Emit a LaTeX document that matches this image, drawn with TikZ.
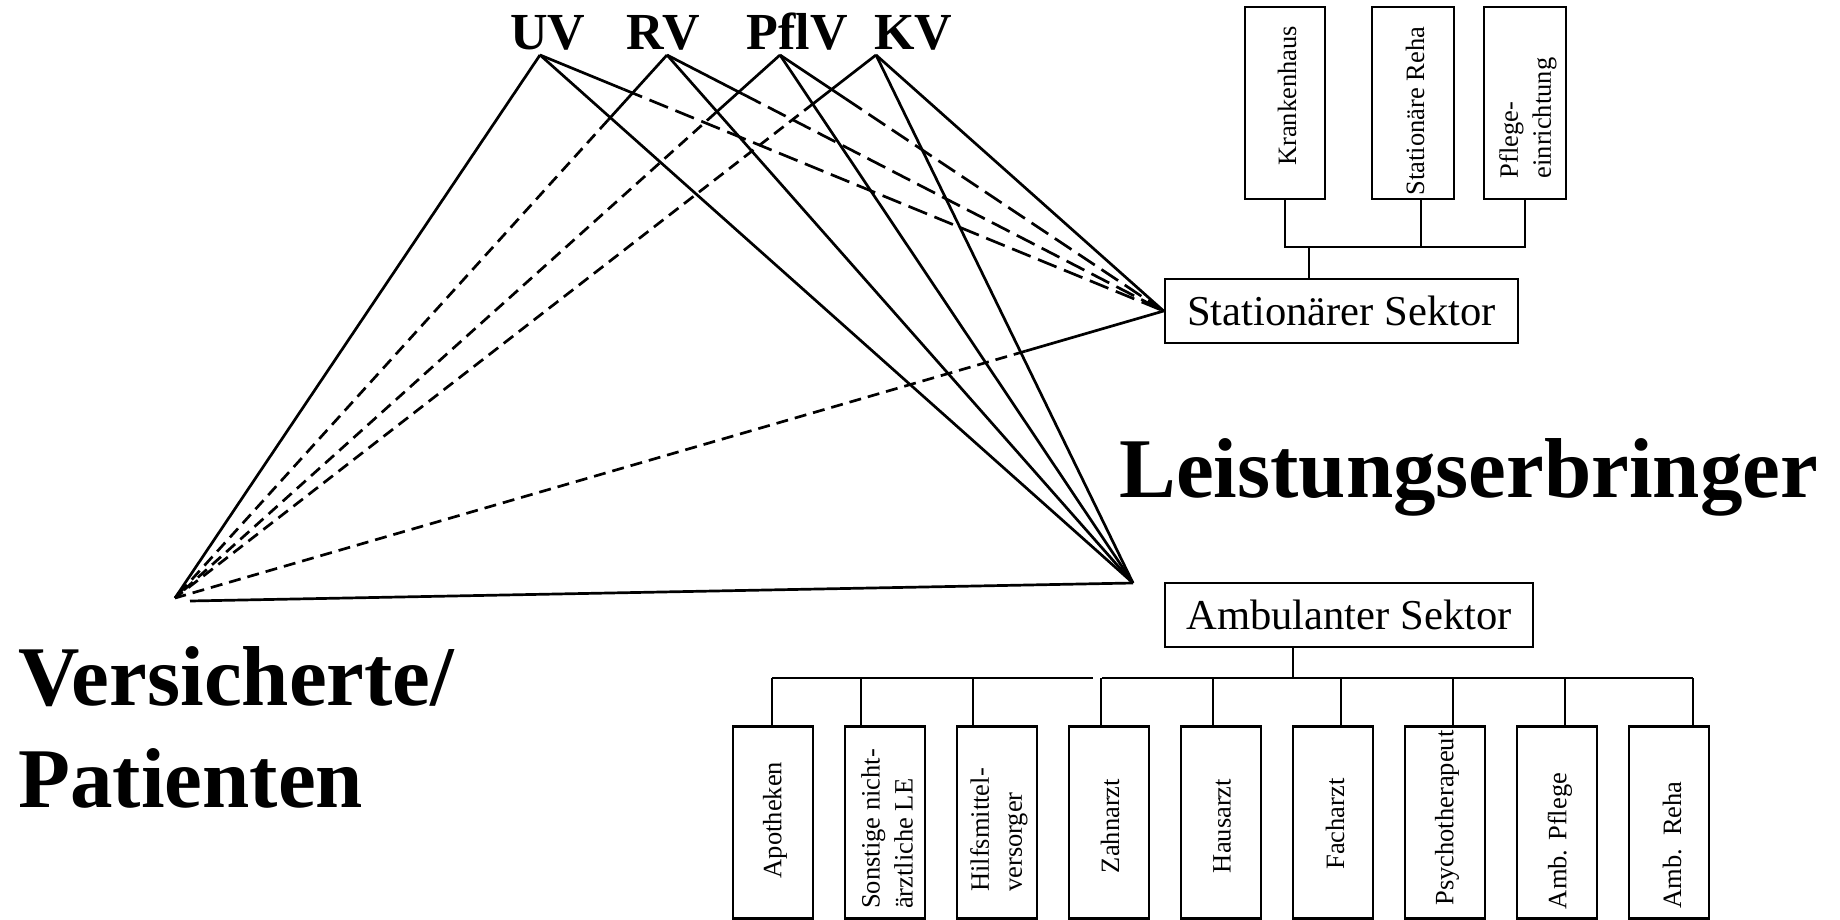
\documentclass[tikz,border=0pt]{standalone}
\usepackage{fontspec}
\setmainfont{Liberation Serif}
\usetikzlibrary{calc}
\begin{document}
\begin{tikzpicture}[x=0.5pt,y=-0.5pt, line width=1.35pt,
  big/.style={font=\fontsize{42.5}{51}\selectfont\bfseries, inner sep=0pt, anchor=base west},
  ins/.style={font=\fontsize{26}{30}\selectfont\bfseries, inner sep=0pt, anchor=base},
  sector/.style={draw, font=\fontsize{21.3}{25}\selectfont, minimum height=32pt, inner sep=0pt},
  sbox/.style={draw, minimum width=40pt, minimum height=96pt, inner sep=0pt},
  stxt/.style={rotate=90, font=\fontsize{13.25}{16.5}\selectfont, align=left, inner sep=0pt},
  toS/.style={dash pattern=on 10pt off 4pt},
  toV/.style={dash pattern=on 6pt off 3.5pt}
]
\useasboundingbox (0,0) rectangle (1840,920);

% insurers
\node[ins] (uv) at (548,50) {UV};
\node[ins] (rv) at (663,50) {RV};
\node[ins] (pflv) at (797,50) {PflV};
\node[ins] (kv) at (913,50) {KV};
\coordinate (uvp) at (540,55);
\coordinate (rvp) at (667,55);
\coordinate (pflvp) at (780,55);
\coordinate (kvp) at (876,55);

% big labels
\node[big] (vers1) at (17,705) {Versicherte/};
\node[big] (vers2) at (17,807) {Patienten};
\node[big] (le) at (1118,497) {Leistungserbringer};

% vertices
\coordinate (V) at (175,598);
\coordinate (Vb) at (190,601);
\coordinate (A) at (1133,583);

% sectors
\node[sector, minimum width=176.5pt] (stat) at (1341.5,311) {Stationärer Sektor};
\node[sector, minimum width=184pt] (amb) at (1349,615) {Ambulanter Sektor};

% solid connectors
\draw (uvp) -- (V);
\draw (uvp) -- (A);
\draw (rvp) -- (A);
\draw (pflvp) -- (A);
\draw (kvp) -- (A);
\draw (kvp) -- (stat.west);
\draw (A) -- (Vb);

% partly solid, then dashed
\draw (uvp) -- ($(uvp)!0.134!(stat.west)$) coordinate (b1);
\draw[toS] (b1) -- (stat.west);
\draw (rvp) -- ($(rvp)!0.153!(stat.west)$) coordinate (b2);
\draw[toS] (b2) -- (stat.west);
\draw (pflvp) -- ($(pflvp)!0.17!(stat.west)$) coordinate (b3);
\draw[toS] (b3) -- (stat.west);
\draw (rvp) -- ($(rvp)!0.12!(V)$) coordinate (b4);
\draw[toV] (b4) -- (V);
\draw (pflvp) -- ($(pflvp)!0.106!(V)$) coordinate (b5);
\draw[toV] (b5) -- (V);
\draw (kvp) -- ($(kvp)!0.089!(V)$) coordinate (b6);
\draw[toV] (b6) -- (V);
\draw (stat.west) -- ($(stat.west)!0.14!(V)$) coordinate (b7);
\draw[toV] (b7) -- (V);

% stationary boxes
\node[sbox] (kh) at (1285,103) {};
\node[sbox, minimum width=41pt] (sr) at (1413,103) {};
\node[sbox, minimum width=41pt] (pe) at (1525,103) {};
\node[stxt] (khT) at (1287,96) {Krankenhaus};
\node[stxt] (srT) at (1415,111) {Stationäre Reha};
\node[stxt] (peT) at (1528,118) {Pflege-\\einrichtung};
\coordinate (sh1) at (1285,247);
\coordinate (sh2) at (1525,247);
\draw (kh.south) -- (sh1) -- (sh2) -- (pe.south);
\draw (1421,247) -- (1421,247 |- sr.south);
\draw (1309,247) -- (1309,247 |- stat.north);

% ambulant boxes
\node[sbox] (apo) at (773,822.5) {};
\node[sbox] (son) at (885,822.5) {};
\node[sbox] (hil) at (997,822.5) {};
\node[sbox] (zah) at (1109,822.5) {};
\node[sbox] (hau) at (1221,822.5) {};
\node[sbox] (fac) at (1333,822.5) {};
\node[sbox] (psy) at (1445,822.5) {};
\node[sbox] (apf) at (1557,822.5) {};
\node[sbox] (are) at (1669,822.5) {};
\node[stxt] (apoT) at (775,820) {Apotheken};
\node[stxt] (sonT) at (887,829) {Sonstige nicht-\\ärztliche LE};
\node[stxt] (hilT) at (999,830) {Hilfsmittel-\\versorger};
\node[stxt] (zahT) at (1110,826) {Zahnarzt};
\node[stxt] (hauT) at (1222,826) {Hausarzt};
\node[stxt] (facT) at (1335,824) {Facharzt};
\node[stxt] (psyT) at (1447,818) {Psychotherapeut};
\node[stxt] (apfT) at (1560,841) {Amb. Pflege};
\node[stxt] (areT) at (1672,845) {Amb.~~Reha};

\coordinate (ah) at (1293,678);
\draw (1293,678 |- amb.south) -- (ah);
\coordinate (hl) at (772,678);
\coordinate (g1) at (1093,678);
\coordinate (g2) at (1102,678);
\coordinate (hr) at (1693,678);
\draw (hl) -- (g1);
\draw (g2) -- (hr);
\foreach \xx/\nn in {772/apo, 861/son, 973/hil, 1101/zah, 1213/hau, 1341/fac, 1453/psy, 1565/apf, 1693/are}
  \draw (\xx,678) -- (\xx,678 |- \nn.north);

\end{tikzpicture}
\end{document}
